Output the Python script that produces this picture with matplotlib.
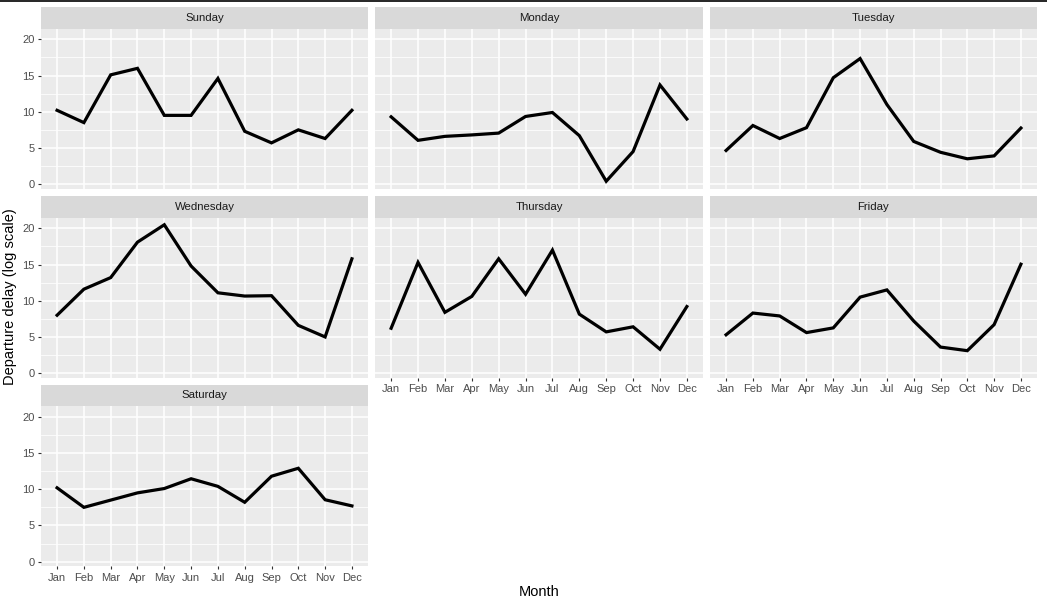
import matplotlib
matplotlib.use('Agg')
import matplotlib.pyplot as plt
from matplotlib.lines import Line2D

plt.rcParams['font.family'] = ['Liberation Sans', 'DejaVu Sans']

months = ['Jan', 'Feb', 'Mar', 'Apr', 'May', 'Jun', 'Jul', 'Aug', 'Sep', 'Oct', 'Nov', 'Dec']
days = ['Sunday', 'Monday', 'Tuesday', 'Wednesday', 'Thursday', 'Friday', 'Saturday']

sunday = [10.2, 8.5, 15.1, 16.0, 9.5, 9.5, 14.6, 7.3, 5.7, 7.5, 6.3, 10.2]
monday = [9.3, 6.05, 6.6, 6.8, 7.05, 9.35, 9.9, 6.7, 0.4, 4.5, 13.7, 9.0]
tuesday = [4.65, 8.1, 6.3, 7.8, 14.7, 17.35, 11.0, 5.9, 4.4, 3.5, 3.9, 7.75]
wednesday = [8.0, 11.6, 13.2, 18.1, 20.5, 14.8, 11.1, 10.65, 10.7, 6.6, 5.0, 15.8]
thursday = [6.2, 15.3, 8.4, 10.6, 15.8, 10.9, 17.0, 8.15, 5.7, 6.4, 3.3, 9.2]
friday = [5.3, 8.3, 7.9, 5.6, 6.25, 10.5, 11.5, 7.2, 3.6, 3.1, 6.7, 15.05]
saturday = [10.2, 7.5, 8.5, 9.5, 10.1, 11.45, 10.4, 8.2, 11.8, 12.9, 8.55, 7.7]
series = [sunday, monday, tuesday, wednesday, thursday, friday, saturday]

W, H = 1047, 607
fig = plt.figure(figsize=(W / 100, H / 100), dpi=100)

# pixel layout of the facet grid
col_x = [(41, 368), (375, 703), (710, 1037)]
row_y = [(7, 28.5, 188.5), (196, 217.5, 377.5), (385, 406, 566)]


def box(x0, y0, x1, y1):
    return [x0 / W, 1 - y1 / H, (x1 - x0) / W, (y1 - y0) / H]


allv = [v for s in series for v in s]
lo, hi = min(allv), max(allv)
pad = 0.05 * (hi - lo)

for i, (day, vals) in enumerate(zip(days, series)):
    r, c = divmod(i, 3)
    x0, x1 = col_x[c]
    st, pt, pb = row_y[r]

    ax = fig.add_axes(box(x0, pt, x1, pb))
    ax.set_facecolor('#EBEBEB')
    for s in ax.spines.values():
        s.set_visible(False)
    ax.plot(range(len(months)), vals, color='black', lw=2.3, solid_joinstyle='miter')
    ax.set_xlim(-0.6, len(months) - 0.4)
    ax.set_ylim(lo - pad, hi + pad)
    ax.set_yticks([0, 5, 10, 15, 20])
    ax.set_yticks([2.5, 7.5, 12.5, 17.5], minor=True)
    ax.set_xticks(range(len(months)))
    ax.set_xticklabels(months)
    ax.grid(which='major', color='white', lw=1.1)
    ax.grid(which='minor', axis='y', color='white', lw=0.55)
    ax.set_axisbelow(True)
    ax.tick_params(which='minor', length=0)
    ax.tick_params(which='major', length=2.2, width=0.8, color='#333333',
                   labelsize=8, labelcolor='#4D4D4D', pad=2.5)

    show_x = r == 2 or (r == 1 and c > 0)
    if not show_x:
        ax.tick_params(axis='x', length=0, labelbottom=False)
    if c != 0:
        ax.tick_params(axis='y', length=0, labelleft=False)

    sax = fig.add_axes(box(x0, st, x1, pt))
    sax.set_facecolor('#D9D9D9')
    sax.set_xticks([])
    sax.set_yticks([])
    for s in sax.spines.values():
        s.set_visible(False)
    sax.text(0.5, 0.5, day, ha='center', va='center', fontsize=8.2,
             color='#1A1A1A', transform=sax.transAxes)

fig.text(10 / W, 1 - 297 / H, 'Departure delay (log scale)', rotation=90,
         ha='center', va='center', fontsize=10.5, color='black')
fig.text(539 / W, 1 - 592 / H, 'Month', ha='center', va='center',
         fontsize=10.5, color='black')

fig.add_artist(Line2D([0, 1], [1 - 0.7 / H] * 2, color='black', lw=1.2,
                      transform=fig.transFigure))

fig.savefig('out.png', dpi=100)
